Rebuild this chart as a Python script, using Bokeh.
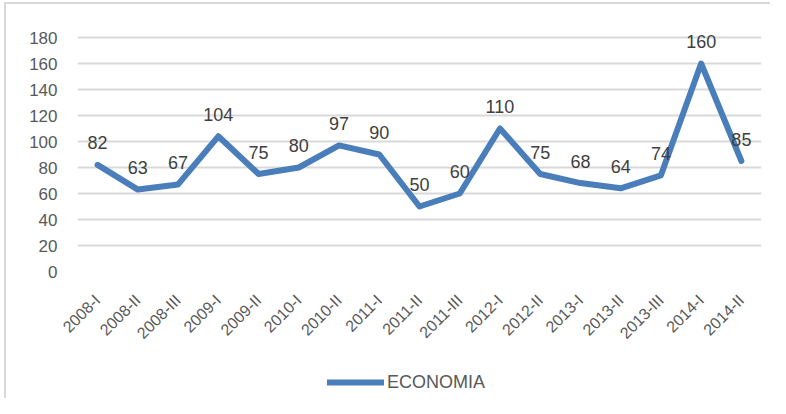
import math
from bokeh.plotting import figure
from bokeh.layouts import column
from bokeh.models import (ColumnDataSource, FactorRange, Range1d, FixedTicker,
                          Legend, LegendItem)
from bokeh.core.properties import value
from bokeh.embed import file_html
from bokeh.resources import INLINE

# ---- data ----
periods = ["2008-I", "2008-II", "2008-III", "2009-I", "2009-II", "2010-I",
           "2010-II", "2011-I", "2011-II", "2011-III", "2012-I", "2012-II",
           "2013-I", "2013-II", "2013-III", "2014-I", "2014-II"]
economia = [82, 63, 67, 104, 75, 80, 97, 90, 50, 60, 110, 75, 68, 64, 74, 160, 85]
y_ticks = [0, 20, 40, 60, 80, 100, 120, 140, 160, 180]
series_name = "ECONOMIA"

FONT = "Liberation Sans"
BLUE = "#4a7ebb"
GRID = "#d9d9d9"
TXT = "#595959"

src = ColumnDataSource(dict(period=periods, val=economia,
                            lab=[str(v) for v in economia]))

p = figure(width=764, height=355, x_range=FactorRange(*periods),
           y_range=Range1d(0, 200), output_backend="svg",
           toolbar_location=None, min_border_left=71, min_border_right=9,
           min_border_top=7, min_border_bottom=88)
p.outline_line_color = None
p.background_fill_color = "white"
p.border_fill_color = "white"

r = p.line(x="period", y="val", source=src, line_width=6, color=BLUE,
           line_join="round", line_cap="round")
p.text(x="period", y="val", text="lab", source=src, text_font=value(FONT),
       text_font_size="18px", text_color="#404040", text_align="center",
       text_baseline="alphabetic", y_offset=-22)

# axes
p.yaxis.ticker = FixedTicker(ticks=y_ticks)
p.yaxis.axis_line_color = None
p.yaxis.major_tick_line_color = None
p.yaxis.minor_tick_line_color = None
p.yaxis.major_tick_out = 0
p.yaxis.major_label_standoff = 20
p.yaxis.major_label_text_font = FONT
p.yaxis.major_label_text_font_size = "17px"
p.yaxis.major_label_text_color = TXT

p.xaxis.axis_line_color = None
p.xaxis.major_tick_line_color = None
p.xaxis.major_tick_out = 0
p.xaxis.major_label_standoff = 26
p.xaxis.major_label_orientation = math.pi / 4
p.xaxis.major_label_text_font = FONT
p.xaxis.major_label_text_font_size = "16px"
p.xaxis.major_label_text_color = TXT

p.xgrid.grid_line_color = None
p.ygrid.grid_line_color = GRID
p.ygrid.grid_line_width = 2

# legend strip (separate figure so the legend is not clipped);
# the series is drawn out of view there, only its legend entry shows
p2 = figure(width=764, height=39, x_axis_type=None, y_axis_type=None,
            x_range=FactorRange(*periods), y_range=Range1d(1000, 1001),
            output_backend="svg", toolbar_location=None,
            min_border_left=0, min_border_right=0, min_border_top=0,
            min_border_bottom=0)
p2.outline_line_color = None
p2.xgrid.grid_line_color = None
p2.ygrid.grid_line_color = None
r2 = p2.line(x="period", y="val", source=src, line_width=6, color=BLUE,
             line_cap="round")
legend = Legend(items=[LegendItem(label=series_name, renderers=[r2])],
                location=(250, 4), orientation="horizontal",
                glyph_width=57, glyph_height=24, label_standoff=3,
                padding=0, margin=0, border_line_color=None,
                background_fill_alpha=0, label_text_font=FONT,
                label_text_font_size="18px", label_text_color=TXT)
p2.add_layout(legend)

layout = column(p, p2, spacing=0)
layout.styles = {"border-left": "2px solid #d9d9d9",
                 "border-top": "2px solid #d9d9d9",
                 "margin-left": "4px", "margin-top": "2px"}

open("out.html", "w").write(file_html(layout, INLINE))
